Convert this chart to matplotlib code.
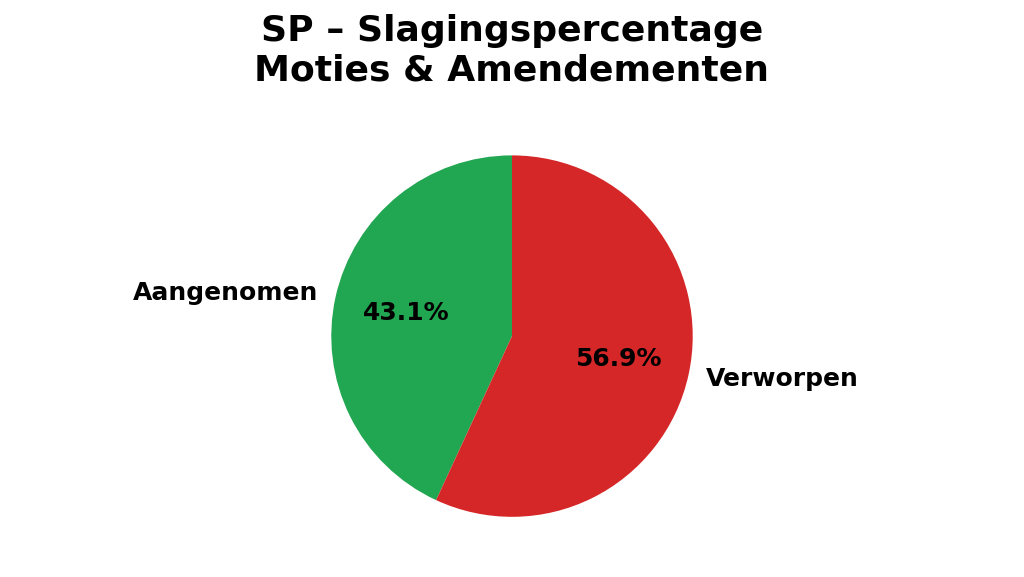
import matplotlib
matplotlib.use("Agg")
import matplotlib.pyplot as plt

labels = ["Aangenomen", "Verworpen"]
values = [43.1, 56.9]
colors = ["#21a651", "#d62728"]

fig = plt.figure(figsize=(10.24, 5.77), dpi=100)
ax = fig.add_axes([0, 0.026, 1, 0.783])
wedges, texts, autotexts = ax.pie(
    values, labels=labels, colors=colors, autopct="%1.1f%%",
    startangle=90, textprops={"fontsize": 18, "fontweight": "bold"},
)
ax.set_ylim(-1.25, 1.25)
ax.set_aspect("equal", adjustable="datalim")
fig.text(0.5, 1 - 14 / 577, "SP – Slagingspercentage\nMoties & Amendementen",
         ha="center", va="top", fontsize=26, fontweight="bold",
         linespacing=1.2)
plt.savefig("out.png")
